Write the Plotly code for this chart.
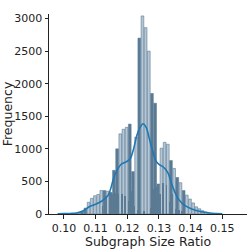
import plotly.graph_objects as go

# ---- data ----
bin_centers = [0.1028, 0.1038, 0.1048, 0.1058, 0.1068, 0.1078, 0.1088, 0.1098, 0.1108,
               0.1118, 0.1128, 0.1138, 0.1148, 0.1158, 0.1168, 0.1178, 0.1188, 0.1198,
               0.1208, 0.1218, 0.1228, 0.1238, 0.1248, 0.1258, 0.1268, 0.1278, 0.1288,
               0.1298, 0.1308, 0.1318, 0.1328, 0.1338, 0.1348, 0.1358, 0.1368, 0.1378,
               0.1388, 0.1398, 0.1408, 0.1418, 0.1428, 0.1438, 0.1448, 0.1458, 0.1468]
bin_counts = [5, 10, 20, 40, 90, 180, 240, 280, 300,
              360, 360, 350, 330, 670, 1000, 1230, 1300, 1330,
              1380, 650, 1180, 2700, 3040, 2860, 2500, 1850, 1700,
              460, 1010, 1100, 1070, 820, 700, 560, 480, 360,
              290, 230, 170, 110, 80, 50, 30, 12, 6]
bin_tone = ["L", "L", "L", "D", "D", "L", "L", "L", "L",
            "L", "D", "L", "D", "D", "D", "L", "L", "L",
            "D", "D", "L", "D", "L", "L", "L", "D", "D",
            "D", "L", "L", "L", "D", "L", "D", "L", "D",
            "L", "L", "L", "L", "L", "L", "L", "L", "L"]

# short dark bars sitting between the main bins
mid_centers = [0.1123, 0.1133, 0.1143, 0.1153, 0.1163, 0.1173, 0.1183, 0.1193, 0.1203,
               0.1213, 0.1223, 0.1233, 0.1253, 0.1273, 0.1283, 0.1293, 0.1303, 0.1313,
               0.1323, 0.1333, 0.1343, 0.1353, 0.1363, 0.1373]
mid_counts = [120, 280, 360, 300, 320, 300, 310, 280, 200,
              350, 120, 60, 40, 90, 380, 420, 300, 470,
              450, 180, 300, 80, 60, 40]

kde_x = [0.098, 0.100, 0.102, 0.104, 0.106, 0.108, 0.110, 0.112, 0.114, 0.116,
         0.118, 0.120, 0.121, 0.122, 0.123, 0.124, 0.125, 0.126, 0.127, 0.128,
         0.129, 0.130, 0.131, 0.132, 0.133, 0.134, 0.135, 0.136, 0.137, 0.138,
         0.140, 0.142, 0.144, 0.146, 0.148, 0.150]
kde_y = [4, 5, 8, 15, 45, 110, 150, 200, 290, 590,
         760, 810, 855, 1000, 1200, 1325, 1385, 1325, 1150, 970,
         820, 760, 735, 690, 615, 465, 340, 240, 180, 135,
         85, 50, 30, 15, 8, 4]

x_ticks = [0.10, 0.11, 0.12, 0.13, 0.14, 0.15]
x_tick_labels = ["0.10", "0.11", "0.12", "0.13", "0.14", "0.15"]
y_ticks = [0, 500, 1000, 1500, 2000, 2500, 3000]

DARK = "#5b7a93"
LIGHT = "#b5c6d4"

fig = go.Figure()
fig.add_trace(go.Bar(
    x=bin_centers, y=bin_counts, width=0.00085,
    marker=dict(color=[DARK if t == "D" else LIGHT for t in bin_tone],
                line=dict(color=DARK, width=0.6)),
    hoverinfo="skip", showlegend=False))
fig.add_trace(go.Bar(
    x=mid_centers, y=mid_counts, width=0.0004,
    marker=dict(color=DARK, line=dict(width=0)),
    hoverinfo="skip", showlegend=False))
fig.add_trace(go.Scatter(
    x=kde_x, y=kde_y, mode="lines", line=dict(color="#1f77b4", width=1.6, shape="spline"),
    hoverinfo="skip", showlegend=False))

axis_font = dict(family="DejaVu Sans", size=11, color="#222")
fig.update_layout(
    width=249, height=249,
    margin=dict(l=49, r=2, t=14, b=35),
    paper_bgcolor="white", plot_bgcolor="white",
    barmode="overlay", bargap=0,
    font=dict(family="DejaVu Sans", color="#222"),
    xaxis=dict(range=[0.0953, 0.1578], tickvals=x_ticks, ticktext=x_tick_labels,
               showgrid=False, zeroline=False, showline=True, linecolor="#222", linewidth=1,
               ticks="outside", ticklen=3.5, tickcolor="#222", tickfont=axis_font,
               title=dict(text="Subgraph Size Ratio", font=dict(size=12.5), standoff=1)),
    yaxis=dict(range=[0, 3070], tickvals=y_ticks,
               showgrid=False, zeroline=False, showline=True, linecolor="#222", linewidth=1,
               ticks="outside", ticklen=3.5, tickcolor="#222", tickfont=axis_font,
               title=dict(text="Frequency", font=dict(size=12.5), standoff=1)),
)
fig.write_html("out.html", config={"displayModeBar": False, "staticPlot": True},
               post_script="document.body.style.margin='0';document.body.style.overflow='hidden';")
